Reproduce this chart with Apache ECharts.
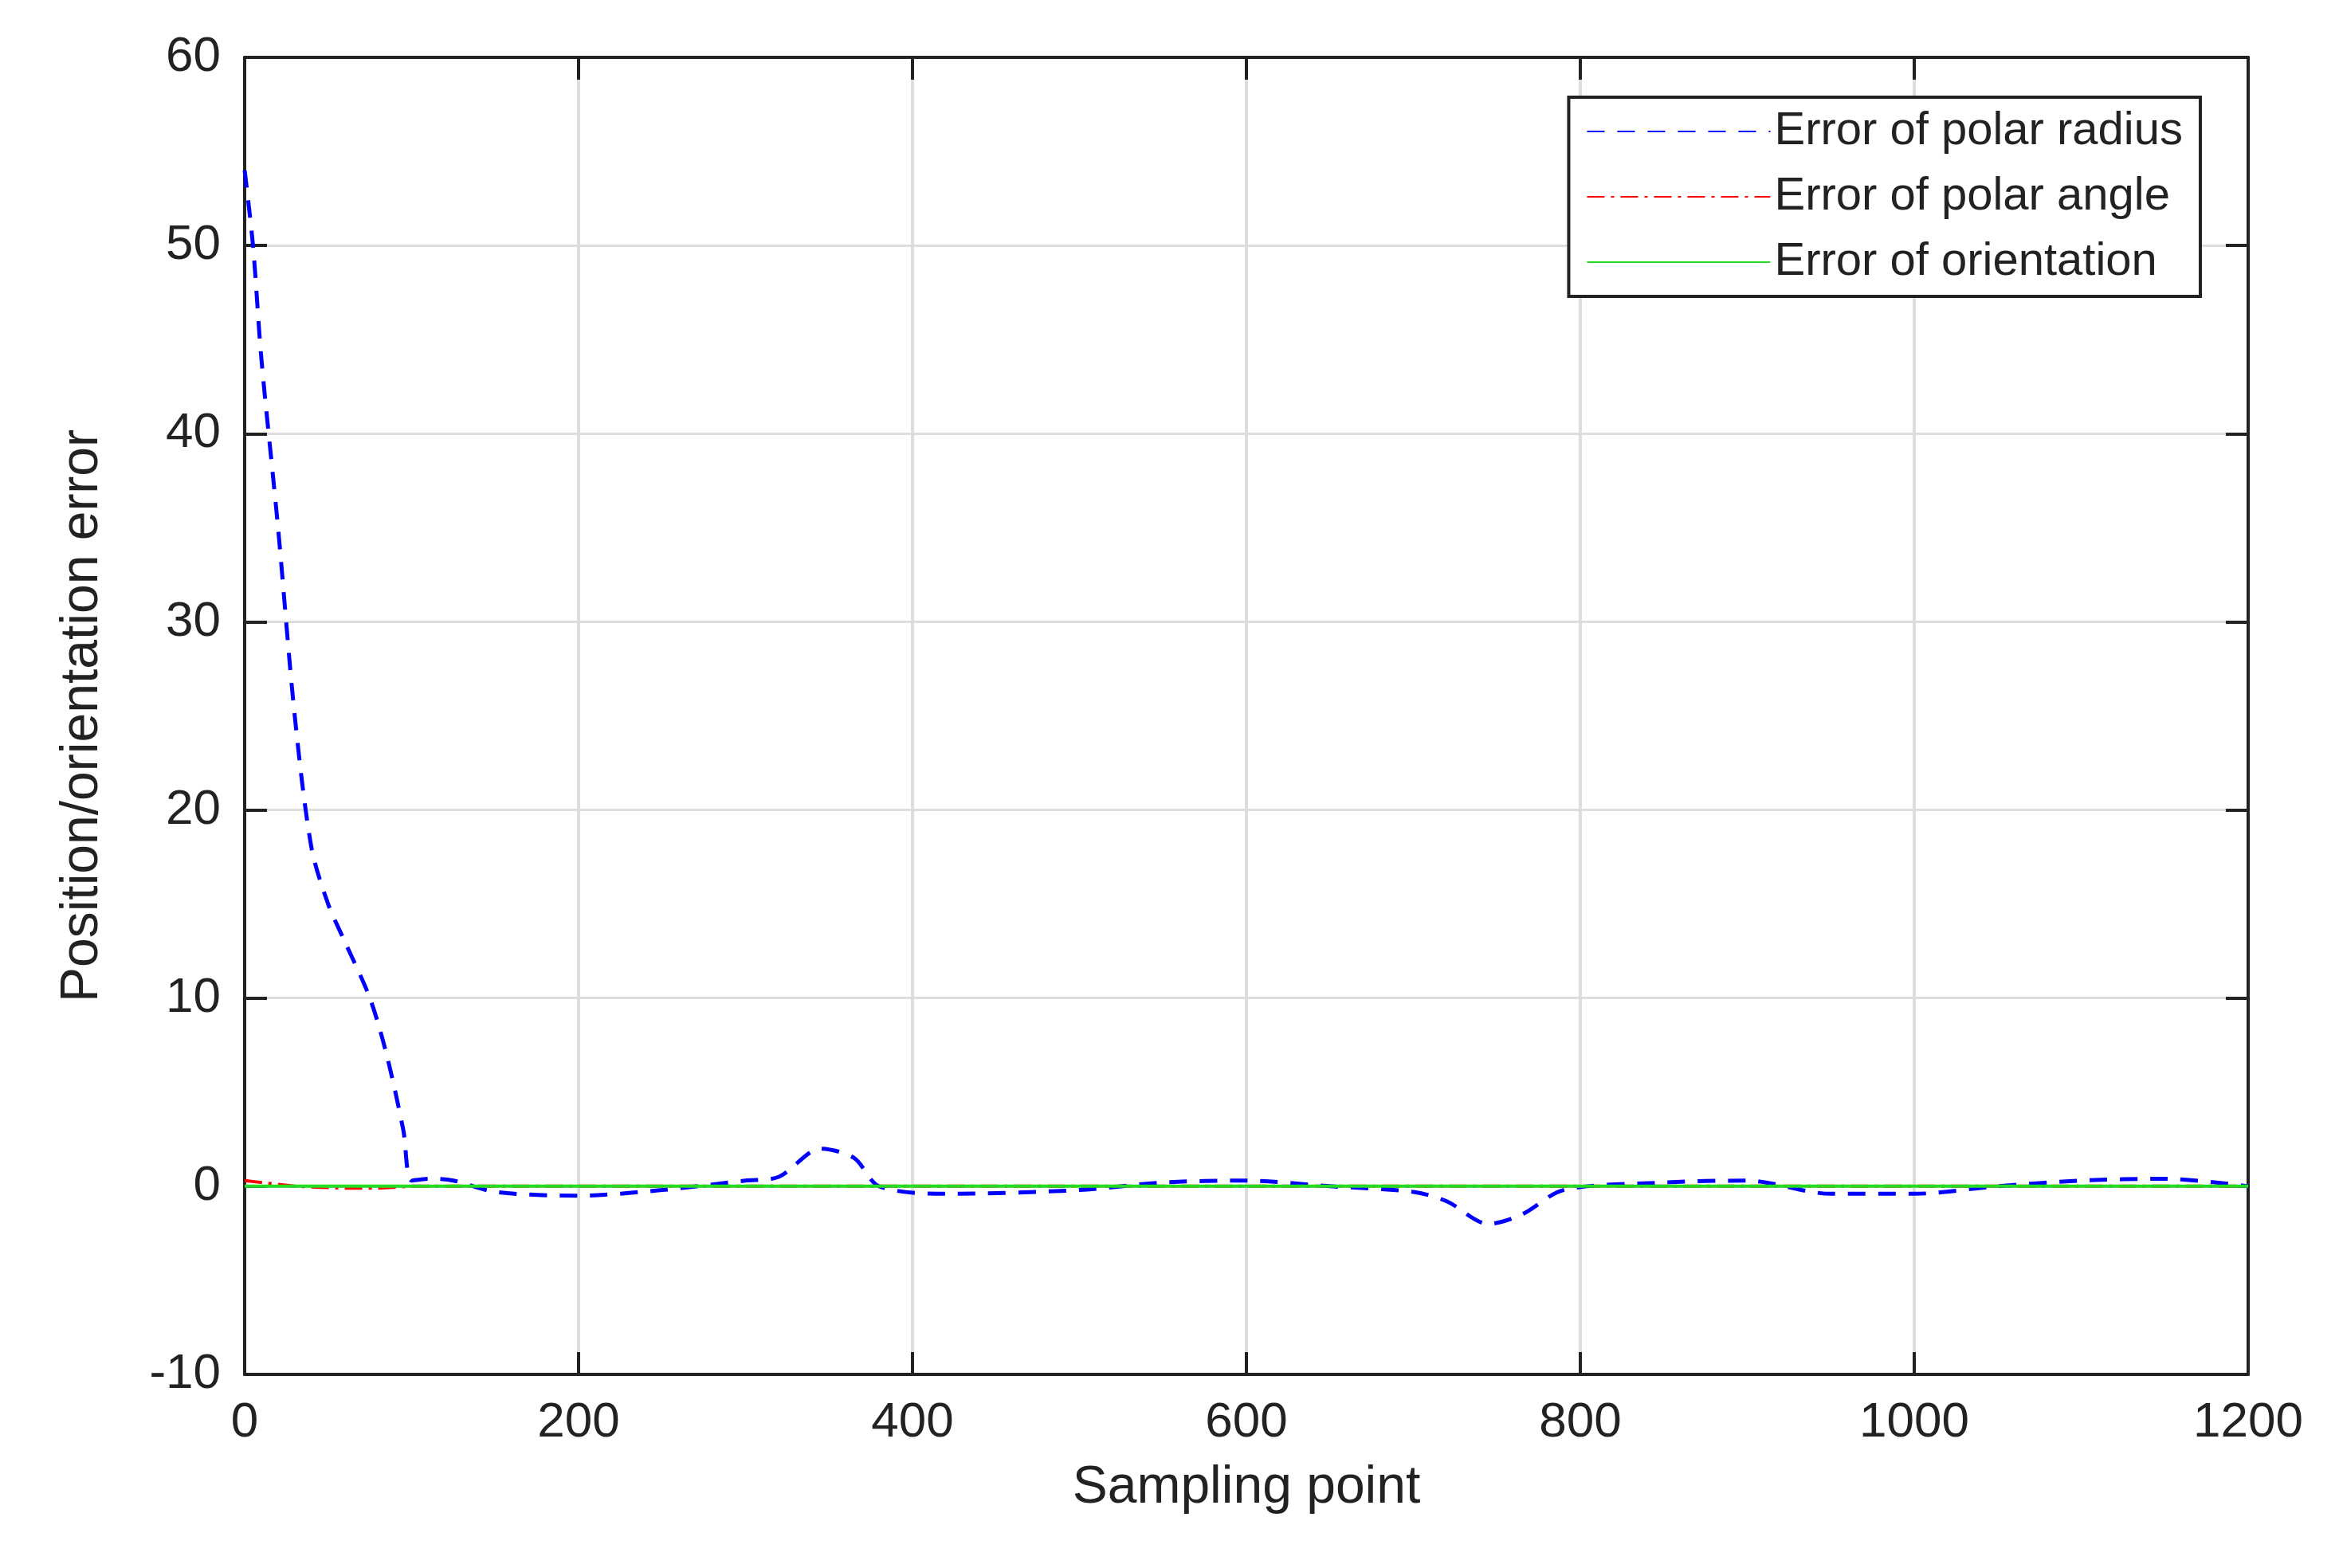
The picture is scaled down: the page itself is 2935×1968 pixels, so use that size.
<!DOCTYPE html>
<html><head><meta charset="utf-8">
<script src="https://cdn.jsdelivr.net/npm/echarts@6/dist/echarts.min.js"></script>
<style>html,body{margin:0;padding:0;background:#fff}#c{width:2935px;height:1968px}</style>
</head><body><div id="c"></div>
<script>
const radiusX = [0,5,10,20,30,40,50,60,75,85,95,100,110,125,150,200,250,300,320,345,365,380,420,500,550,600,650,700,720,745,765,790,850,900,950,1000,1050,1100,1150,1200];
const radiusY = [54,50,44,35,25,18,15,13,10,7,3,0.3,0.4,0.3,-0.3,-0.5,-0.2,0.3,0.5,2,1.5,0,-0.4,-0.2,0.2,0.3,0,-0.3,-0.8,-2,-1.5,-0.2,0.2,0.3,-0.4,-0.4,0,0.3,0.4,0];
const angleX = [0,10,30,60,80,100,200,400,600,800,1000,1200];
const angleY = [0.3,0.2,0,-0.1,-0.1,0,0,0,0,0,0,0];
const orientX = [0,100,200,400,600,800,1000,1200];
const orientY = [0,0,0,0,0,0,0,0];
const names = ['Error of polar radius','Error of polar angle','Error of orientation'];
const zip=(a,b)=>a.map((v,i)=>[v,b[i]]);
const font='Liberation Sans';
const tick={inside:true,length:28,lineStyle:{color:'#222',width:4}};
const line={show:true,onZero:false,lineStyle:{color:'#222',width:4}};
const lab={fontFamily:font,fontSize:62,color:'#222',margin:30,formatter:v=>String(v)};
const chart=echarts.init(document.getElementById('c'));
chart.setOption({
  animation:false,
  grid:{left:307,right:114,top:72,bottom:243},
  legend:{right:174,top:122,orient:'vertical',itemWidth:230,itemHeight:20,itemGap:24,
    backgroundColor:'#fff',borderColor:'#222',borderWidth:4,padding:[14,22,14,22],
    itemStyle:{opacity:0},
    textStyle:{fontFamily:font,fontSize:58,color:'#222'},data:names},
  xAxis:[{type:'value',min:0,max:1200,interval:200,name:'Sampling point',nameLocation:'middle',nameGap:110,
    nameTextStyle:{fontFamily:font,fontSize:66,color:'#222'},
    axisLine:line,axisTick:tick,axisLabel:lab,
    splitLine:{lineStyle:{color:'#ddd',width:4}}},
    {type:'value',position:'top',min:0,max:1200,interval:200,axisLine:line,axisTick:tick,axisLabel:{show:false},splitLine:{show:false}}],
  yAxis:[{type:'value',min:-10,max:60,interval:10,name:'Position/orientation error',nameLocation:'middle',nameGap:170,
    nameTextStyle:{fontFamily:font,fontSize:66,color:'#222'},
    axisLine:line,axisTick:tick,axisLabel:lab,
    splitLine:{lineStyle:{color:'#ddd',width:3}}},
    {type:'value',position:'right',min:-10,max:60,interval:10,axisLine:line,axisTick:tick,axisLabel:{show:false},splitLine:{show:false}}],
  series:[
    {name:names[0],type:'line',smooth:0.3,symbol:'none',data:zip(radiusX,radiusY),z:3,
     lineStyle:{color:'#0000ff',width:5,type:[22,16]},itemStyle:{color:'#0000ff'}},
    {name:names[1],type:'line',symbol:'none',data:zip(angleX,angleY),z:2,
     lineStyle:{color:'#ff0000',width:4,type:[22,8,4,8]},itemStyle:{color:'#ff0000'}},
    {name:names[2],type:'line',symbol:'none',data:zip(orientX,orientY),z:4,
     lineStyle:{color:'#22dd22',width:4},itemStyle:{color:'#22dd22'}}
  ]
});
</script></body></html>
